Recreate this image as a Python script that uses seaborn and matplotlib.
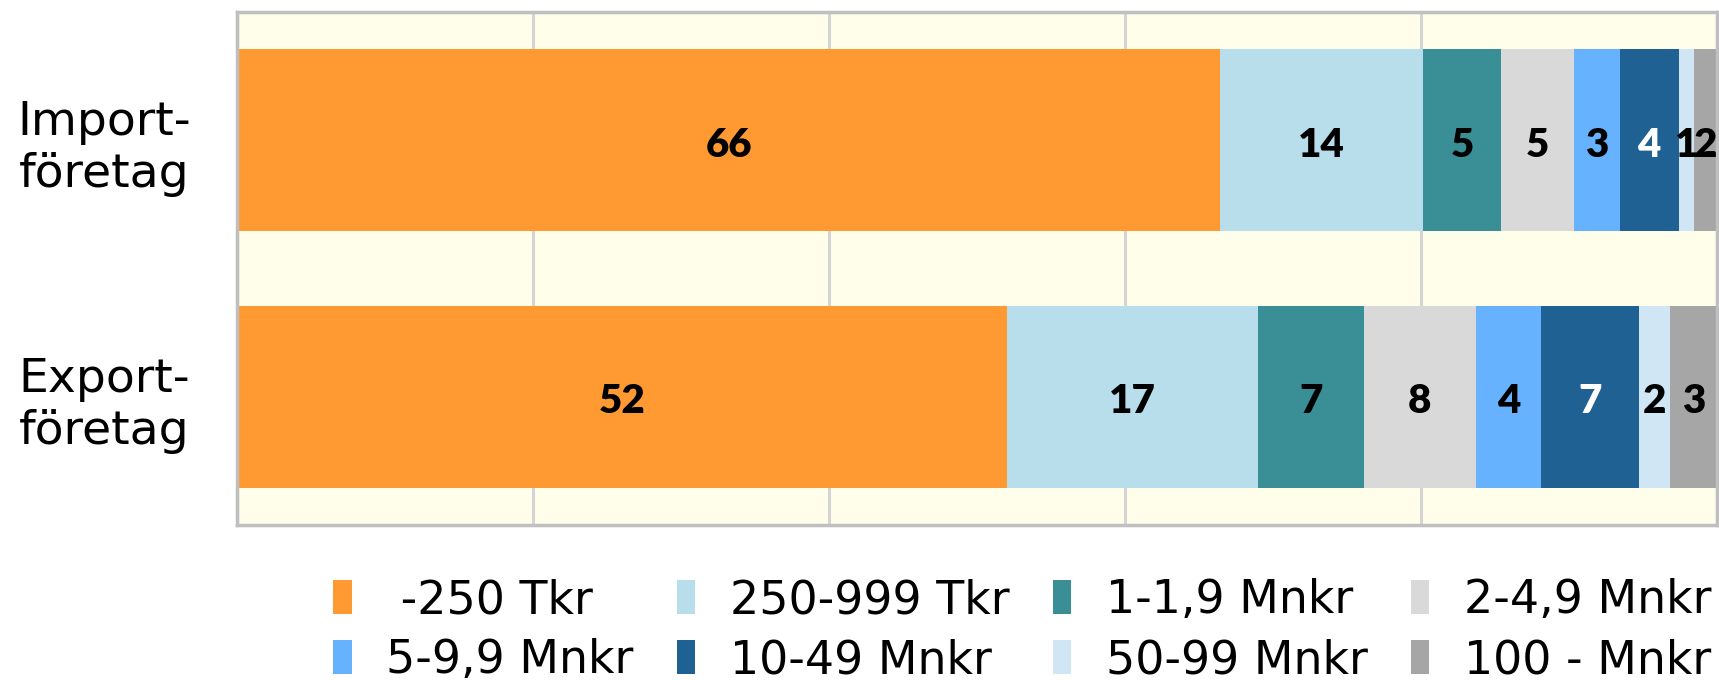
import numpy as np
import pandas as pd
import matplotlib
matplotlib.use("Agg")
import matplotlib.pyplot as plt
from matplotlib.patches import Patch
import seaborn as sns

# ==========================
# DATA
# ==========================

categories = ["Import-\nföretag", "Export-\nföretag"]
classes = ["-250 Tkr", "250-999 Tkr", "1-1,9 Mnkr", "2-4,9 Mnkr",
           "5-9,9 Mnkr", "10-49 Mnkr", "50-99 Mnkr", "100 - Mnkr"]
import_share = [66.4, 13.7, 5.3, 4.9, 3.1, 4.0, 1.0, 1.6]
export_share = [52.0, 17.0, 7.1, 7.6, 4.4, 6.6, 2.1, 3.2]
colors = ["#FF9A33", "#B7DEEA", "#3A8E96", "#D9D9D9",
          "#66B2FF", "#1F6193", "#D0E6F5", "#A6A6A6"]
label_colors = ["black", "black", "black", "black",
                "black", "white", "black", "black"]

# ==========================
# STYLE
# ==========================

sns.set_theme(style="white")
plt.rcParams["font.family"] = ["DejaVu Sans"]
plt.rcParams["text.color"] = "black"
plt.rcParams["ytick.color"] = "black"

fig = plt.figure(figsize=(17.19, 6.8), dpi=100)
ax = fig.add_axes([0.138, 0.228, 0.861, 0.754])
ax.set_facecolor("#FEFEEB")

df = pd.DataFrame({"Import": import_share, "Export": export_share}, index=classes)
cum = df.cumsum()

# draw cumulative bars from the widest down so each segment stays visible
for i in reversed(range(len(classes))):
    sns.barplot(
        x=[cum["Import"].iloc[i], cum["Export"].iloc[i]],
        y=categories,
        color=colors[i],
        orient="h",
        width=0.71,
        saturation=1,
        linewidth=0,
        ax=ax,
        zorder=2,
    )

# segment labels
for row, col in enumerate(["Import", "Export"]):
    for i in range(len(classes)):
        val = df[col].iloc[i]
        center = cum[col].iloc[i] - val / 2
        ax.text(center, row + 0.02, f"{val:.0f}", ha="center", va="center",
                fontsize=29, fontweight="heavy", family="Lato",
                color=label_colors[i], zorder=3)

ax.set_xlim(0, 100)
ax.set_ylim(1.5, -0.5)
ax.set_xticks([0, 20, 40, 60, 80, 100])
ax.set_xticklabels([])
ax.xaxis.grid(True, color="#D4D4D4", linewidth=2.2, zorder=0)
ax.set_axisbelow(True)
ax.set_xlabel("")
ax.set_ylabel("")
ax.tick_params(axis="y", length=0, pad=96, labelsize=34, labelcolor="black")
ax.tick_params(axis="x", length=0)
for lab in ax.get_yticklabels():
    lab.set_ha("center")
    lab.set_multialignment("center")

for s in ax.spines.values():
    s.set_color("#BFBFBF")
    s.set_linewidth(2.5)

# ==========================
# LEGEND (row-major order)
# ==========================

handles = [Patch(facecolor=c, edgecolor="none") for c in colors]
labels = list(classes)
labels[0] = " " + labels[0]
order = [0, 4, 1, 5, 2, 6, 3, 7]
fig.legend([handles[k] for k in order], [labels[k] for k in order],
           ncol=4, loc="upper left", bbox_to_anchor=(0.194, 0.150),
           frameon=False, fontsize=33, handlelength=0.4, handleheight=0.75,
           handletextpad=0.75, columnspacing=0.95, labelspacing=0.33,
           borderaxespad=0, borderpad=0)

fig.savefig("out.png", dpi=100)
plt.close()
